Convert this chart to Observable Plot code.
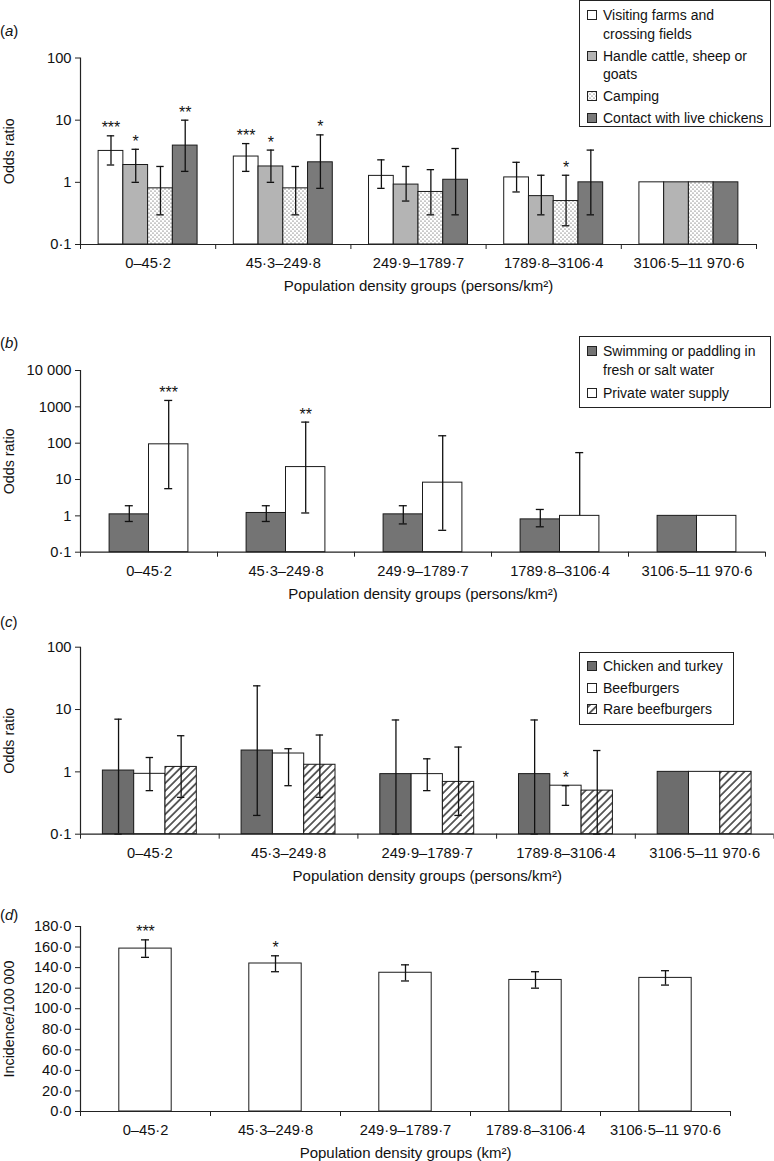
<!DOCTYPE html>
<html><head><meta charset="utf-8">
<script src="https://cdn.jsdelivr.net/npm/d3@7"></script>
<script src="https://cdn.jsdelivr.net/npm/@observablehq/plot@0.6"></script>
<style>
body{margin:0;background:#fff;font-family:"Liberation Sans",Arial,Helvetica,sans-serif;font-size:14px;color:#111}
#root{position:relative;width:774px;height:1161px;overflow:hidden}
.panel{position:absolute;left:0}
.tag{position:absolute;left:0;font-size:15px;line-height:18px}
.legend{position:absolute;border:1px solid #222;background:#fff;box-sizing:border-box}
.legend .line{position:absolute;white-space:nowrap;line-height:18px}
.legend svg{position:absolute}
</style></head><body>
<svg width="0" height="0" style="position:absolute">
<defs>
<pattern id="dots" patternUnits="userSpaceOnUse" width="4" height="4"><rect width="4" height="4" fill="#fff"/><circle cx="1" cy="1" r="0.6" fill="#333"/><circle cx="3" cy="3" r="0.6" fill="#333"/></pattern>
<pattern id="hatch" patternUnits="userSpaceOnUse" width="5.5" height="5.5" patternTransform="rotate(45)"><rect width="5.5" height="5.5" fill="#fff"/><line x1="2.75" y1="0" x2="2.75" y2="5.5" stroke="#111" stroke-width="1.3"/></pattern>
</defs></svg>
<div id="root"></div>
<script>
// ---------- data ----------
const categories = ["0–45·2", "45·3–249·8", "249·9–1789·7", "1789·8–3106·4", "3106·5–11 970·6"];

// (a)
const seriesA = ["Visiting farms and crossing fields", "Handle cattle, sheep or goats", "Camping", "Contact with live chickens"];
const valuesA = [[3.2, 2.6, 1.27, 1.2, 1], [1.9, 1.8, 0.92, 0.6, 1], [0.8, 0.8, 0.7, 0.5, 1], [3.9, 2.1, 1.1, 1.0, 1]];
const lowA    = [[1.9, 1.5, 0.8, 0.7, null], [1.0, 1.0, 0.5, 0.3, null], [0.3, 0.3, 0.3, 0.2, null], [1.5, 0.8, 0.3, 0.3, null]];
const highA   = [[5.6, 4.2, 2.3, 2.1, null], [3.4, 3.3, 1.8, 1.3, null], [1.8, 1.8, 1.6, 1.3, null], [10, 5.8, 3.5, 3.3, null]];
const starsA  = [["***", "***", "", "", ""], ["*", "*", "", "", ""], ["", "", "", "*", ""], ["**", "*", "", "", ""]];
const ticksA = [0.1, 1, 10, 100];
const tickLabelsA = ["0·1", "1", "10", "100"];

// (b)
const seriesB = ["Swimming or paddling in fresh or salt water", "Private water supply"];
const valuesB = [[1.1, 1.2, 1.1, 0.8, 1], [93, 22, 8.2, 1.0, 1]];
const lowB    = [[0.7, 0.7, 0.6, 0.5, null], [5.6, 1.2, 0.4, null, null]];
const highB   = [[1.9, 1.9, 1.9, 1.5, null], [1500, 380, 160, 55, null]];
const starsB  = [["", "", "", "", ""], ["***", "**", "", "", ""]];
const ticksB = [0.1, 1, 10, 100, 1000, 10000];
const tickLabelsB = ["0·1", "1", "10", "100", "1000", "10 000"];

// (c)
const seriesC = ["Chicken and turkey", "Beefburgers", "Rare beefburgers"];
const valuesC = [[1.05, 2.2, 0.92, 0.92, 1], [0.93, 1.97, 0.92, 0.6, 1], [1.2, 1.3, 0.69, 0.5, 1]];
const lowC    = [[0.1, 0.2, 0.1, 0.1, null], [0.5, 0.6, 0.5, 0.29, null], [0.39, 0.39, 0.2, 0.1, null]];
const highC   = [[7.0, 24, 6.8, 6.8, null], [1.7, 2.35, 1.62, 0.6, null], [3.8, 3.9, 2.5, 2.2, null]];
const starsC  = [["", "", "", "", ""], ["", "", "", "*", ""], ["", "", "", "", ""]];
const ticksC = [0.1, 1, 10, 100];
const tickLabelsC = ["0·1", "1", "10", "100"];

// (d)
const seriesD = ["Incidence"];
const valuesD = [[158.5, 144, 135, 128, 130]];
const lowD    = [[150, 136, 127, 120, 123]];
const highD   = [[167, 151.5, 142.7, 136, 137]];
const starsD  = [["***", "*", "", "", ""]];
const ticksD = [0, 20, 40, 60, 80, 100, 120, 140, 160, 180];
const tickLabelsD = ["0·0", "20·0", "40·0", "60·0", "80·0", "100·0", "120·0", "140·0", "160·0", "180·0"];

// ---------- styles ----------
const FONT = '"Liberation Sans", Arial, Helvetica, sans-serif';
const root = document.getElementById("root");

function panel(cfg) {
  const n = cfg.series.length;
  const w = cfg.barW;
  const rows = [];
  cfg.series.forEach((s, j) => {
    categories.forEach((c, i) => {
      const cx = i + 0.5 + (j - (n - 1) / 2) * w;
      rows.push({g: i, s: j, cx, x1: cx - w / 2, x2: cx + w / 2,
        v: cfg.values[j][i], lo: cfg.low[j][i], hi: cfg.high[j][i], star: cfg.stars[j][i]});
    });
  });
  const base = cfg.yDomain[0];
  const withErr = rows.filter(d => d.hi != null);
  const withLo = withErr.filter(d => d.lo != null);
  const cap = cfg.cap;
  const marks = [];
  cfg.series.forEach((s, j) => {
    marks.push(Plot.rect(rows.filter(d => d.s === j), {
      x1: "x1", x2: "x2", y1: () => base, y2: "v",
      fill: cfg.fills[j], stroke: "#1a1a1a", strokeWidth: 1
    }));
  });
  marks.push(
    Plot.ruleX(withErr, {x: "cx", y1: d => d.lo ?? d.v, y2: "hi", stroke: "#111", strokeWidth: 1.3}),
    Plot.ruleY(withErr, {y: "hi", x1: "cx", x2: "cx", insetLeft: -cap, insetRight: -cap, stroke: "#111", strokeWidth: 1.3}),
    Plot.ruleY(withLo, {y: "lo", x1: "cx", x2: "cx", insetLeft: -cap, insetRight: -cap, stroke: "#111", strokeWidth: 1.3}),
    Plot.text(rows.filter(d => d.star), {x: "cx", y: "hi", text: "star", dy: -2.5, lineAnchor: "bottom", fontSize: 16, fill: "#111"}),
    Plot.ruleY([base], {stroke: "#222", strokeWidth: 1.2}),
    Plot.ruleX([0], {stroke: "#222", strokeWidth: 1.2}),
    Plot.axisX({ticks: [0, 1, 2, 3, 4, 5], tickSize: 5, tickFormat: () => "", label: null, stroke: "#222"}),
    Plot.axisX({ticks: [0.5, 1.5, 2.5, 3.5, 4.5], tickSize: 0, tickPadding: 13, label: null,
      tickFormat: t => categories[Math.floor(t)], fontSize: 14.7}),
    Plot.axisY({ticks: cfg.ticks, tickSize: 5, tickPadding: 4, label: null, stroke: "#222",
      tickFormat: t => cfg.tickLabels[cfg.ticks.indexOf(t)], fontSize: 14.7}),
    Plot.text([cfg.xlabel], {frameAnchor: "bottom", dy: 42, lineAnchor: "middle", textAnchor: "middle", fontSize: 15, fill: "#111"}),
    Plot.text([cfg.ylabel], {frameAnchor: "left", dx: -71, rotate: -90, textAnchor: "middle", lineAnchor: "middle", fontSize: 14.3, fill: "#111"})
  );
  const svg = Plot.plot({
    width: 774, height: cfg.height,
    marginLeft: 80, marginRight: cfg.marginRight, marginTop: cfg.marginTop, marginBottom: cfg.marginBottom,
    x: {type: "linear", domain: [0, 5]},
    y: {type: cfg.yType, domain: cfg.yDomain},
    style: {fontFamily: FONT, fontSize: "14.7px", color: "#111", background: "transparent", overflow: "visible"},
    marks
  });
  const div = document.createElement("div");
  div.className = "panel";
  div.style.top = cfg.top + "px";
  div.appendChild(svg);
  root.appendChild(div);

  const tag = document.createElement("div");
  tag.className = "tag";
  tag.style.top = cfg.tagTop + "px";
  tag.innerHTML = "(<i>" + cfg.tag + "</i>)";
  root.appendChild(tag);

  if (cfg.legend) {
    const L = cfg.legend;
    const box = document.createElement("div");
    box.className = "legend";
    Object.assign(box.style, {left: L.left + "px", top: L.top + "px", width: L.width + "px", height: L.height + "px"});
    let y = L.first;
    cfg.series.forEach((s, j) => {
      const lines = L.lines[j];
      const sw = document.createElementNS("http://www.w3.org/2000/svg", "svg");
      sw.setAttribute("width", 10); sw.setAttribute("height", 10);
      sw.style.left = (587 - L.left - 1) + "px";
      sw.style.top = (y - 5 - L.top - 1) + "px";
      sw.innerHTML = `<rect x="0.5" y="0.5" width="9" height="9" fill="${cfg.fills[j]}" stroke="#222" stroke-width="1"/>`;
      box.appendChild(sw);
      lines.forEach((t, k) => {
        const ln = document.createElement("div");
        ln.className = "line";
        ln.textContent = t;
        ln.style.left = (603 - L.left - 1) + "px";
        ln.style.top = (y - 9 - L.top - 1) + "px";
        box.appendChild(ln);
        if (k < lines.length - 1) y += L.lineH;
      });
      y += L.lineH + L.gap;
    });
    root.appendChild(box);
  }
}

panel({
  tag: "a", tagTop: 22, top: 0, height: 300, marginTop: 57.5, marginBottom: 56, marginRight: 18,
  series: seriesA, values: valuesA, low: lowA, high: highA, stars: starsA,
  fills: ["#ffffff", "#b4b4b4", "url(#dots)", "#7a7a7a"], barW: 0.183, cap: 3.7,
  yType: "log", yDomain: [0.1, 100], ticks: ticksA, tickLabels: tickLabelsA,
  ylabel: "Odds ratio", xlabel: "Population density groups (persons/km²)",
  legend: {left: 579, top: 0, width: 192, height: 127, first: 15, lineH: 18.5, gap: 3.5,
    lines: [["Visiting farms and", "crossing fields"], ["Handle cattle, sheep or", "goats"], ["Camping"], ["Contact with live chickens"]]}
});

panel({
  tag: "b", tagTop: 334, top: 300, height: 310, marginTop: 70, marginBottom: 58.3, marginRight: 9,
  series: seriesB, values: valuesB, low: lowB, high: highB, stars: starsB,
  fills: ["#747474", "#ffffff"], barW: 0.2876, cap: 4,
  yType: "log", yDomain: [0.1, 10000], ticks: ticksB, tickLabels: tickLabelsB,
  ylabel: "Odds ratio", xlabel: "Population density groups (persons/km²)",
  legend: {left: 579, top: 336, width: 192, height: 72, first: 351, lineH: 19, gap: 3.5,
    lines: [["Swimming or paddling in", "fresh or salt water"], ["Private water supply"]]}
});

panel({
  tag: "c", tagTop: 613, top: 610, height: 290, marginTop: 36.7, marginBottom: 66.3, marginRight: 0.5,
  series: seriesC, values: valuesC, low: lowC, high: highC, stars: starsC,
  fills: ["#6d6d6d", "#ffffff", "url(#hatch)"], barW: 0.2257, cap: 3.7,
  yType: "log", yDomain: [0.1, 100], ticks: ticksC, tickLabels: tickLabelsC,
  ylabel: "Odds ratio", xlabel: "Population density groups (persons/km²)",
  legend: {left: 579, top: 652, width: 155, height: 73, first: 666, lineH: 19, gap: 2.5,
    lines: [["Chicken and turkey"], ["Beefburgers"], ["Rare beefburgers"]]}
});

panel({
  tag: "d", tagTop: 906, top: 900, height: 261, marginTop: 26, marginBottom: 50, marginRight: 44,
  series: seriesD, values: valuesD, low: lowD, high: highD, stars: starsD,
  fills: ["#ffffff"], barW: 0.403, cap: 4,
  yType: "linear", yDomain: [0, 180], ticks: ticksD, tickLabels: tickLabelsD,
  ylabel: "Incidence/100 000", xlabel: "Population density groups (km²)",
  legend: null
});
</script>
</body></html>
